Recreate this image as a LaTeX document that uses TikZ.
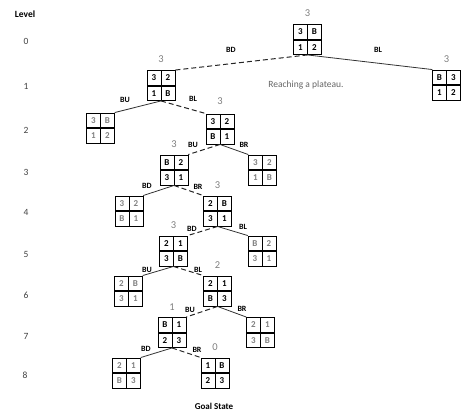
\documentclass[tikz,border=0pt]{standalone}
\usepackage{fontspec}
\setmainfont{Carlito}
\usetikzlibrary{positioning}
\tikzset{
  board/.style={minimum width=28pt, minimum height=30.5pt, inner sep=0pt},
  cell/.style={draw, line width=0.6pt, minimum width=14pt, minimum height=14.5pt, inner sep=0pt, font=\fontsize{9}{9}\selectfont\bfseries},
  good/.style={text=black},
  side/.style={text=black!50},
  hval/.style={inner sep=0pt, text=black!50, font=\fontsize{10.5}{12}\selectfont},
  move/.style={inner sep=0pt, font=\fontsize{8}{9}\selectfont\bfseries},
  lvl/.style={inner sep=0pt, text=black!75, font=\fontsize{9.5}{11}\selectfont},
  picked/.style={dash pattern=on 5pt off 3pt, line width=1pt, black!85},
  dropped/.style={line width=0.8pt, black!80},
}
\def\board[#1](#2:#3)(#4/#5/#6/#7){%
  \node[board] (#2) at (#3) {};
  \node[cell,#1] (#2-1) at ([shift={(-7,-7.75)}]#2.center) {#4};
  \node[cell,#1] (#2-2) at ([shift={(7,-7.75)}]#2.center) {#5};
  \node[cell,#1] (#2-3) at ([shift={(-7,7.75)}]#2.center) {#6};
  \node[cell,#1] (#2-4) at ([shift={(7,7.75)}]#2.center) {#7};
}

\begin{document}
\begin{tikzpicture}[x=1pt, y=-1pt]
  \useasboundingbox (0,0) rectangle (474,414);

  %%%%% levels %%%%%
  \node[lvl, font=\fontsize{9.5}{11}\selectfont\bfseries, text=black] (lvtitle) at (25,14) {Level};
  \node[lvl] (lv0) at (26,41) {0};
  \node[lvl] (lv1) at (26,86) {1};
  \node[lvl] (lv2) at (26,130) {2};
  \node[lvl] (lv3) at (26,172) {3};
  \node[lvl] (lv4) at (26,212) {4};
  \node[lvl] (lv5) at (26,254) {5};
  \node[lvl] (lv6) at (26,295) {6};
  \node[lvl] (lv7) at (26,336) {7};
  \node[lvl] (lv8) at (25,375) {8};

  %%%%% boards %%%%%
  \board[good](s0:307.5,39.5)(3/B/1/2)
  \board[good](s1a:161,85.5)(3/2/1/B)
  \board[good](s1b:446.5,85)(B/3/1/2)
  \board[side](s2a:100.5,128)(3/B/1/2)
  \board[good](s2b:220,129)(3/2/B/1)
  \board[good](s3a:174,170)(B/2/3/1)
  \board[side](s3b:262.5,170)(3/2/1/B)
  \board[side](s4a:129,211)(3/2/B/1)
  \board[good](s4b:217.5,211)(2/B/3/1)
  \board[good](s5a:173.5,251)(2/1/3/B)
  \board[side](s5b:262,251)(B/2/3/1)
  \board[side](s6a:128.5,291)(2/B/3/1)
  \board[good](s6b:217.5,291)(2/1/B/3)
  \board[good](s7a:172,332.5)(B/1/2/3)
  \board[side](s7b:260.5,332.5)(2/1/3/B)
  \board[side](s8a:126.5,373)(2/1/B/3)
  \board[good](s8b:215,373)(1/B/2/3)

  %%%%% heuristic values %%%%%
  \node[hval, above=7pt of s0] (h0) {3};
  \node[hval, above=7pt of s1a] (h1a) {3};
  \node[hval, above=7pt of s1b] (h1b) {3};
  \node[hval, above=9pt of s2b] (h2b) {3};
  \node[hval, above=7pt of s3a] (h3a) {3};
  \node[hval, above=7pt of s4b] (h4b) {3};
  \node[hval, above=7pt of s5a] (h5a) {3};
  \node[hval, above=7pt of s6b] (h6b) {2};
  \node[hval, above=6pt of s7a] (h7a) {1};
  \node[hval, above=7pt of s8b] (h8b) {0};

  %%%%% moves %%%%%
  \draw[picked] (s0.south) -- (s1a.north east);
  \draw[dropped] (s0.south) -- (s1b.north west);
  \draw[dropped] (s1a.south) -- (s2a.north east);
  \draw[picked] (s1a.south) -- (s2b.north west);
  \draw[picked] (s2b.south) -- (s3a.north east);
  \draw[dropped] (s2b.south) -- (s3b.north west);
  \draw[dropped] (s3a.south) -- (s4a.north east);
  \draw[picked] (s3a.south) -- (s4b.north west);
  \draw[picked] (s4b.south) -- (s5a.north east);
  \draw[dropped] (s4b.south) -- (s5b.north west);
  \draw[dropped] (s5a.south) -- (s6a.north east);
  \draw[picked] (s5a.south) -- (s6b.north west);
  \draw[picked] (s6b.south) -- (s7a.north east);
  \draw[dropped] (s6b.south) -- (s7b.north west);
  \draw[dropped] (s7a.south) -- (s8a.north east);
  \draw[picked] (s7a.south) -- (s8b.north west);

  \node[move] (m0a) at (231,50) {BD};
  \node[move] (m0b) at (378,50) {BL};
  \node[move] (m1a) at (125,100) {BU};
  \node[move] (m1b) at (193,99) {BL};
  \node[move] (m2a) at (193,145) {BU};
  \node[move] (m2b) at (244,145) {BR};
  \node[move] (m3a) at (147,186) {BD};
  \node[move] (m3b) at (198,187) {BR};
  \node[move] (m4a) at (192,229) {BD};
  \node[move] (m4b) at (243,227) {BL};
  \node[move] (m5a) at (147,270) {BU};
  \node[move] (m5b) at (198,270) {BL};
  \node[move] (m6a) at (190,310) {BU};
  \node[move] (m6b) at (242,309) {BR};
  \node[move] (m7a) at (146,349) {BD};
  \node[move] (m7b) at (197,350) {BR};

  %%%%% notes %%%%%
  \node[text=black!60, font=\fontsize{9.5}{11}\selectfont] (plateau) at (306,85) {Reaching a plateau.};
  \node[move, font=\fontsize{9}{10}\selectfont\bfseries] (goal) at (214,406) {Goal State};
\end{tikzpicture}
\end{document}
